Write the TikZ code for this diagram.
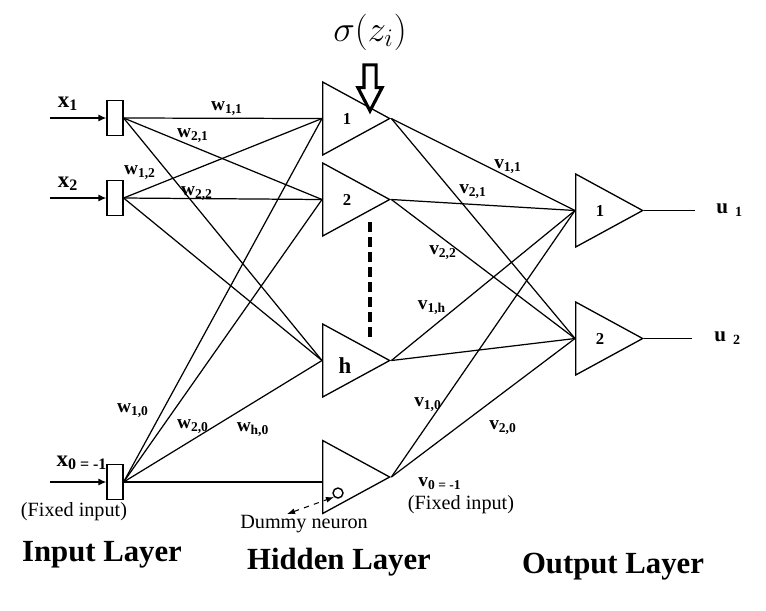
\documentclass[tikz,border=0pt]{standalone}
\usepackage{fontspec}
\setmainfont{Liberation Serif}
\usepackage{tikz}
\usetikzlibrary{shapes.geometric, shapes.arrows, arrows.meta, positioning}
\tikzset{
  inputbox/.style={rectangle, draw, line width=0.7pt, minimum width=0.32cm, minimum height=0.7cm, inner sep=0pt},
  neuron/.style={isosceles triangle, isosceles triangle stretches, draw, line width=0.75pt, minimum height=1.34cm, minimum width=1.46cm, inner sep=0pt, anchor=west},
  numlabel/.style={anchor=center, xshift=0.5cm, inner sep=0pt, font=\fontsize{9.5}{11}\selectfont\bfseries},
  wire/.style={line width=0.7pt},
  inarrow/.style={-{Latex[length=1.6mm, width=1.4mm]}, line width=0.7pt},
  wlabel/.style={inner sep=0pt, font=\fontsize{11}{12}\selectfont\bfseries},
  xlabel/.style={inner sep=0pt, font=\fontsize{13}{14}\selectfont\bfseries},
  notelabel/.style={inner sep=0pt, font=\fontsize{11.5}{13}\selectfont},
  layerlabel/.style={inner sep=0pt, font=\fontsize{17.5}{20}\selectfont\bfseries},
  bigarrow/.style={single arrow, draw, fill=white, line width=1.8pt, shape border rotate=270, minimum height=0.92cm, minimum width=0.44cm, single arrow head extend=0.12cm, single arrow tip angle=55, inner sep=0.09cm},
  dotsline/.style={line width=2.4pt, dash pattern=on 0.2cm off 0.1cm},
  dummyarrow/.style={{Latex[length=1.6mm]}-{Latex[length=1.6mm]}, dashed, line width=0.6pt}
}
\begin{document}
\begin{tikzpicture}[x=0.02cm, y=-0.02cm]
  \useasboundingbox (0,0) rectangle (766,610);

  % input layer
  \node[inputbox] (inA) at (115,118) {};
  \node[inputbox] (inB) at (115,198) {};
  \node[inputbox] (inC) at (115,482) {};
  \coordinate (inX1) at (50,118);
  \coordinate (inX2) at (50,198);
  \coordinate (inX0) at (50,482);
  \draw[inarrow] (inX1) -- (inA.west);
  \draw[inarrow] (inX2) -- (inB.west);
  \draw[inarrow] (inX0) -- (inC.west);
  \node[xlabel] (lx1) at (68,104) {x\textsubscript{1}};
  \node[xlabel] (lx2) at (68,184) {x\textsubscript{2}};
  \node[xlabel] (lx0) at (82,463) {x\textsubscript{0 = -1}};
  \node[notelabel] (fixA) at (74,512) {(Fixed input)};

  % hidden layer
  \node[neuron, label={[numlabel]west:1}] (h1) at (322,118.5) {};
  \node[neuron, label={[numlabel]west:2}] (h2) at (322,199.5) {};
  \node[neuron, label={[numlabel, font=\fontsize{13}{14}\selectfont\bfseries, xshift=-0.04cm, yshift=-0.1cm]west:h}] (hh) at (322,360.5) {};
  \node[neuron] (h0) at (322,477) {};
  \node[circle, draw, line width=0.8pt, minimum size=0.2cm, inner sep=0pt] (dummy) at (338,493) {};
  \coordinate (dumTail) at (287,514);
  \draw[dummyarrow] (dumTail) -- (dummy.south west);
  \node[notelabel] (dumtext) at (304,524) {Dummy neuron};
  \coordinate (dotsTop) at (370,222);
  \coordinate (dotsBot) at (370,338);
  \draw[dotsline] (dotsTop) -- (dotsBot);
  \node[bigarrow] (sigarrow) at (370,82) {};
  \node[font=\fontsize{20}{22}\selectfont] (sigma) at (370,32) {$\sigma(z_i)$};

  % output layer
  \node[neuron, label={[numlabel]west:1}] (o1) at (575,210.5) {};
  \node[neuron, label={[numlabel]west:2}] (o2) at (575,338.5) {};
  \coordinate (outU1) at (695,210.5);
  \coordinate (outU2) at (692,338.5);
  \draw[wire] (o1.apex) -- (outU1);
  \draw[wire] (o2.apex) -- (outU2);
  \node[wlabel, font=\fontsize{12}{13}\selectfont\bfseries, right=0.42cm of outU1] (lu1) {u\,\,\textsubscript{1}};
  \node[wlabel, font=\fontsize{12}{13}\selectfont\bfseries, right=0.44cm of outU2] (lu2) {u\,\,\textsubscript{2}};

  % input -> hidden
  \draw[wire] (inA.east) -- (h1.west);  \draw[wire] (inA.east) -- (h2.west);  \draw[wire] (inA.east) -- (hh.west);
  \draw[wire] (inB.east) -- (h1.west);  \draw[wire] (inB.east) -- (h2.west);  \draw[wire] (inB.east) -- (hh.west);
  \draw[wire] (inC.east) -- (h1.west);  \draw[wire] (inC.east) -- (h2.west);  \draw[wire] (inC.east) -- (hh.west);
  \draw[wire] (inC.east) -- (inC.east -| h0.west);

  % hidden -> output
  \draw[wire] (h1.apex) -- (o1.west);  \draw[wire] (h1.apex) -- (o2.west);
  \draw[wire] (h2.apex) -- (o1.west);  \draw[wire] (h2.apex) -- (o2.west);
  \draw[wire] (hh.apex) -- (o1.west);  \draw[wire] (hh.apex) -- (o2.west);
  \draw[wire] (h0.apex) -- (o1.west);  \draw[wire] (h0.apex) -- (o2.west);

  % weights
  \node[wlabel] (w11) at (227,109) {w\textsubscript{1,1}};
  \node[wlabel] (w21) at (193,136) {w\textsubscript{2,1}};
  \node[wlabel] (w12) at (140,173) {w\textsubscript{1,2}};
  \node[wlabel] (w22) at (197,194) {w\textsubscript{2,2}};
  \node[wlabel] (w10) at (133,411) {w\textsubscript{1,0}};
  \node[wlabel] (w20) at (193,427) {w\textsubscript{2,0}};
  \node[wlabel] (wh0) at (253,430) {w\textsubscript{h,0}};
  \node[wlabel] (v11) at (508,167) {v\textsubscript{1,1}};
  \node[wlabel] (v21) at (473,192) {v\textsubscript{2,1}};
  \node[wlabel] (v22) at (443,253) {v\textsubscript{2,2}};
  \node[wlabel] (v1h) at (432,308) {v\textsubscript{1,h}};
  \node[wlabel] (v10) at (428,405) {v\textsubscript{1,0}};
  \node[wlabel] (v20) at (503,428) {v\textsubscript{2,0}};
  \node[wlabel] (lv0) at (440,484) {v\textsubscript{0 = -1}};
  \node[notelabel] (fixB) at (461,505) {(Fixed input)};

  % layer names
  \node[layerlabel] (inlayer) at (102,555) {Input Layer};
  \node[layerlabel] (hidlayer) at (339,562) {Hidden Layer};
  \node[layerlabel] (outlayer) at (613,567) {Output Layer};
\end{tikzpicture}
\end{document}
